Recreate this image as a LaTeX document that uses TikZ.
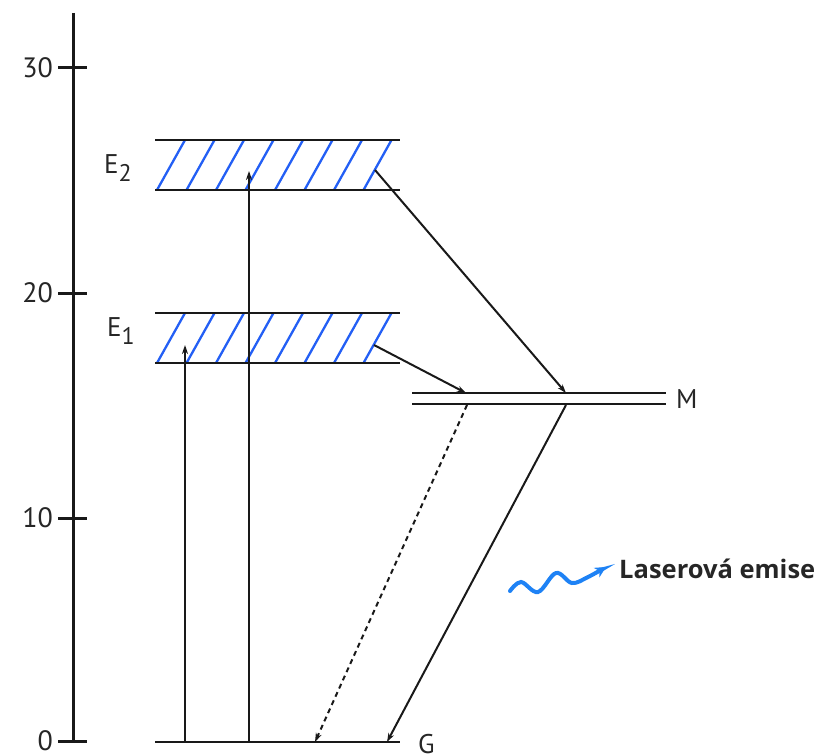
\documentclass[tikz,border=0pt]{standalone}
\usepackage{fontspec}
\setmainfont{PT Sans}
\newfontfamily\lblfont{Open Sans}
\usetikzlibrary{arrows.meta}
\definecolor{hatchblue}{RGB}{35,95,245}
\definecolor{waveblue}{RGB}{30,130,245}
\begin{document}
\begin{tikzpicture}[x=1pt,y=-1pt,
  level/.style={line width=2.8pt,black!90},
  axisline/.style={line width=3pt,black!90},
  hatch/.style={line width=2.3pt,hatchblue},
  trans/.style={line width=2pt,black!90,-{Stealth[length=9pt,width=6pt]}},
  ticklbl/.style={font=\fontsize{28}{32}\selectfont,anchor=east,inner sep=0pt,text=black!85},
  lvllbl/.style={font=\fontsize{27}{30}\selectfont,inner sep=0pt,text=black!85},
]
\useasboundingbox (0,0) rectangle (818,754);
% axis
\draw[axisline] (73,13) -- (73,742);
\foreach \yy/\lab in {68/30,293/20,518/10,741/0}{
  \draw[axisline] (58,\yy) -- (87,\yy);
  \node[ticklbl] (t\lab) at (53,\yy) {\lab};
}
% bands
\foreach \top/\bot/\nm in {140/190/E2,313/363/E1}{
  \foreach \k in {0,...,7}{
    \draw[hatch] ({157+29.5*\k},\bot) -- ({185+29.5*\k},\top);
  }
  \draw[level] (155,\top) -- (400,\top);
  \draw[level] (155,\bot) -- (400,\bot);
}
\node[lvllbl,anchor=west] (lE2) at (104,168) {E\raisebox{-0.32em}{\fontsize{24}{26}\selectfont 2}};
\node[lvllbl,anchor=west] (lE1) at (107,331) {E\raisebox{-0.32em}{\fontsize{24}{26}\selectfont 1}};
% M level
\draw[level] (412,393) -- (666,393);
\draw[level] (412,404) -- (666,404);
\node[lvllbl,anchor=west] (lM) at (676,399) {M};
% G level
\draw[level] (155,742) -- (400,742);
\node[lvllbl,anchor=west] (lG) at (418,744) {G};
% coordinates
\coordinate (g1) at (185,742);
\coordinate (e1a) at (185,345);
\coordinate (g2) at (249,742);
\coordinate (e2a) at (249,171);
\coordinate (e1r) at (374,345);
\coordinate (e2r) at (375,170);
\coordinate (m1) at (466,393);
\coordinate (m2) at (566,393);
\coordinate (m1b) at (467,405);
\coordinate (m2b) at (566,405);
\coordinate (g3) at (315,742);
\coordinate (g4) at (387,742);
% transitions
\draw[trans] (g1) -- (e1a);
\draw[trans] (g2) -- (e2a);
\draw[trans] (e1r) -- (m1);
\draw[trans] (e2r) -- (m2);
\draw[trans] (m2b) -- (g4);
\draw[trans,dash pattern=on 5pt off 4pt] (m1b) -- (g3);
% laser emission
\draw[line width=4pt,waveblue,line cap=round,-{Stealth[length=11pt,width=11pt]}]
  plot[smooth,tension=0.6] coordinates {(510,591) (521,582) (538,592) (556,573) (572,583) (588,577) (606,567)};
\node[font=\lblfont\bfseries\fontsize{25.5}{29}\selectfont,anchor=west,inner sep=0pt,text=black!85] (lbl) at (619,569) {Laserová emise};
\end{tikzpicture}
\end{document}
